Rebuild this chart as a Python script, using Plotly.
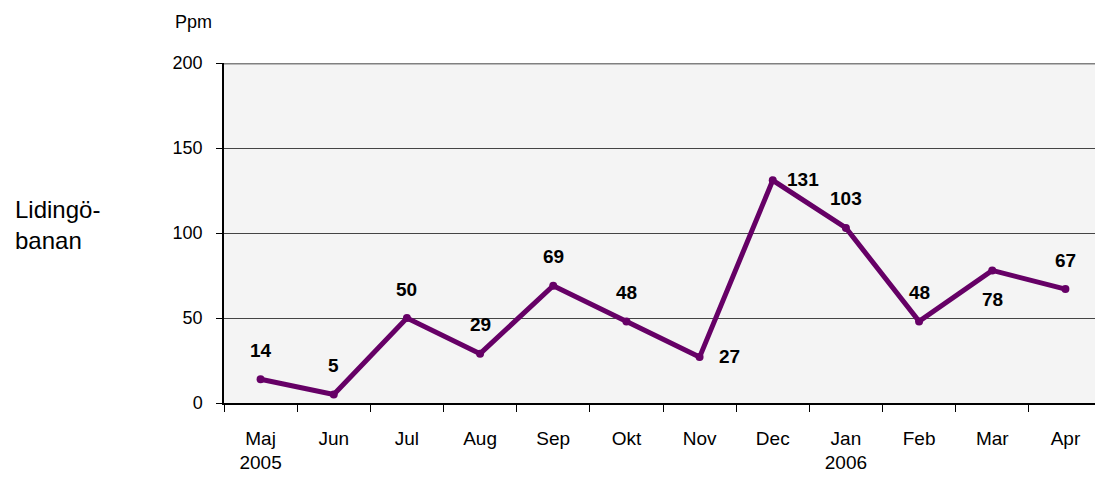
import plotly.graph_objects as go

months = ["Maj<br>2005", "Jun", "Jul", "Aug", "Sep", "Okt", "Nov",
          "Dec", "Jan<br>2006", "Feb", "Mar", "Apr"]
ppm = [14, 5, 50, 29, 69, 48, 27, 131, 103, 48, 78, 67]

# label placement per point (style only)
label_pos = ["top", "top", "top", "top", "top", "top", "right",
             "right", "top", "top", "bottom", "top"]
shift = {"top": (0, 29), "bottom": (0, -29), "right": (30, 1)}

line_color = "#660066"
font_family = "Arial, Liberation Sans, sans-serif"

fig = go.Figure()
fig.add_trace(go.Scatter(
    x=months, y=ppm, mode="lines+markers",
    line=dict(color=line_color, width=5),
    marker=dict(color=line_color, size=8),
    hoverinfo="x+y", showlegend=False,
))

for m, v, p in zip(months, ppm, label_pos):
    dx, dy = shift[p]
    fig.add_annotation(
        x=m, y=v, text=f"<b>{v}</b>", showarrow=False,
        xshift=dx, yshift=dy,
        font=dict(family=font_family, size=19, color="black"),
    )

fig.add_annotation(
    text="Lidingö-<br>banan", xref="paper", yref="paper",
    x=-0.2403, y=0.5235, xanchor="left", yanchor="middle", align="left",
    showarrow=False, font=dict(size=24, color="black"),
)
fig.add_annotation(
    text="Ppm", xref="paper", yref="paper",
    x=-0.0353, y=1.12, xanchor="center", yanchor="middle",
    showarrow=False, font=dict(size=18, color="black"),
)

fig.add_shape(type="line", xref="paper", yref="y", x0=0, x1=1, y0=200, y1=200,
              line=dict(color="#808080", width=3))
fig.add_shape(type="line", xref="paper", yref="paper", x0=1, x1=1, y0=0, y1=1,
              line=dict(color="#c8c8c8", width=2))

fig.update_layout(
    width=1095, height=470,
    margin=dict(l=216, r=1, t=55, b=75),
    paper_bgcolor="white", plot_bgcolor="#f4f4f4",
    font=dict(family=font_family, size=18, color="black"),
)
fig.update_xaxes(
    type="category", range=[-0.5, len(months) - 0.5],
    tickson="boundaries", ticks="outside", ticklen=7,
    tickcolor="black", showline=True, linecolor="black", linewidth=1.5,
    showgrid=False, tickfont=dict(size=19), ticklabelstandoff=17,
)
fig.update_yaxes(
    range=[0, 200], tickvals=[0, 50, 100, 150, 200], ticks="outside",
    ticklen=6, tickcolor="black", showline=True, linecolor="black",
    linewidth=1.5, showgrid=True, gridcolor="#444444", gridwidth=1,
    zeroline=False, tickfont=dict(size=18), ticklabelstandoff=10,
)

fig.write_html("out.html")
